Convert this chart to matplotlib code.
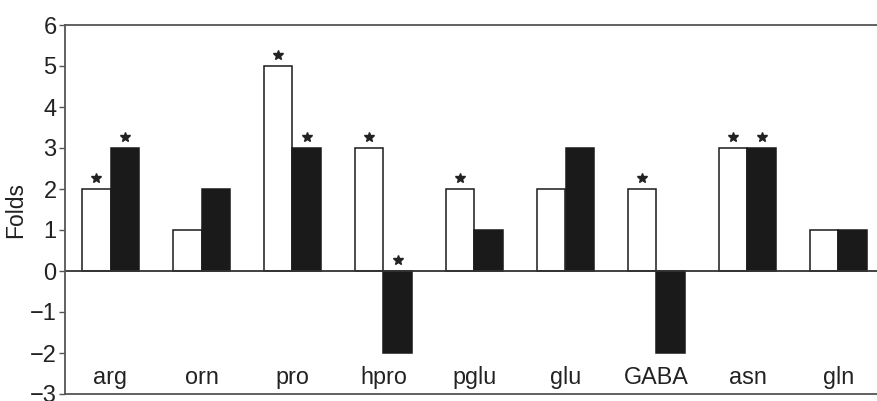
import matplotlib.pyplot as plt
import numpy as np

plt.rcParams['font.family'] = ['Liberation Sans', 'DejaVu Sans']

# Data
amino_acids = ['arg', 'orn', 'pro', 'hpro', 'pglu', 'glu', 'GABA', 'asn', 'gln']
white_folds = [2, 1, 5, 3, 2, 2, 2, 3, 1]
black_folds = [3, 2, 3, -2, 1, 3, -2, 3, 1]
white_signif = [True, False, True, True, True, False, True, True, False]
black_signif = [True, False, True, True, False, False, False, True, False]

fig = plt.figure(figsize=(8.77, 4.01), dpi=100)
ax = fig.add_axes([65 / 877, 1 - 394 / 401, 819 / 877, 369 / 401])

x = np.arange(len(amino_acids))
w = 0.31  # bar width
edge = '#1a1a1a'

ax.bar(x - w / 2, white_folds, w, color='white', edgecolor=edge, linewidth=1.1)
ax.bar(x + w / 2, black_folds, w, color='#1a1a1a', edgecolor=edge, linewidth=1.1)

# zero line
ax.axhline(0, color='#333333', linewidth=1.3)

# significance stars sit just above the bar (or above zero for negative bars)
off = 0.28
for i in range(len(amino_acids)):
    if white_signif[i]:
        ax.plot(x[i] - w / 2, max(white_folds[i], 0) + off, marker='*', color='#222222', markersize=7)
    if black_signif[i]:
        ax.plot(x[i] + w / 2, max(black_folds[i], 0) + off, marker='*', color='#222222', markersize=7)

# category labels inside the axes, near the bottom
for i, name in enumerate(amino_acids):
    ax.text(x[i], -2.75, name, ha='center', va='baseline', fontsize=16.8, color='#222222')

ax.set_xlim(-0.5, len(amino_acids) - 0.5)
ax.set_ylim(-3, 6)
ax.set_yticks(range(-3, 7))
ax.set_xticks([])
ax.tick_params(axis='y', labelsize=17, length=4, width=1, color='#555555', labelcolor='#222222', pad=2)
ax.set_ylabel('Folds', fontsize=16.5, color='#222222', labelpad=2)

for s in ax.spines.values():
    s.set_color('#555555')
    s.set_linewidth(1.3)

fig.savefig('out.png', dpi=100)
